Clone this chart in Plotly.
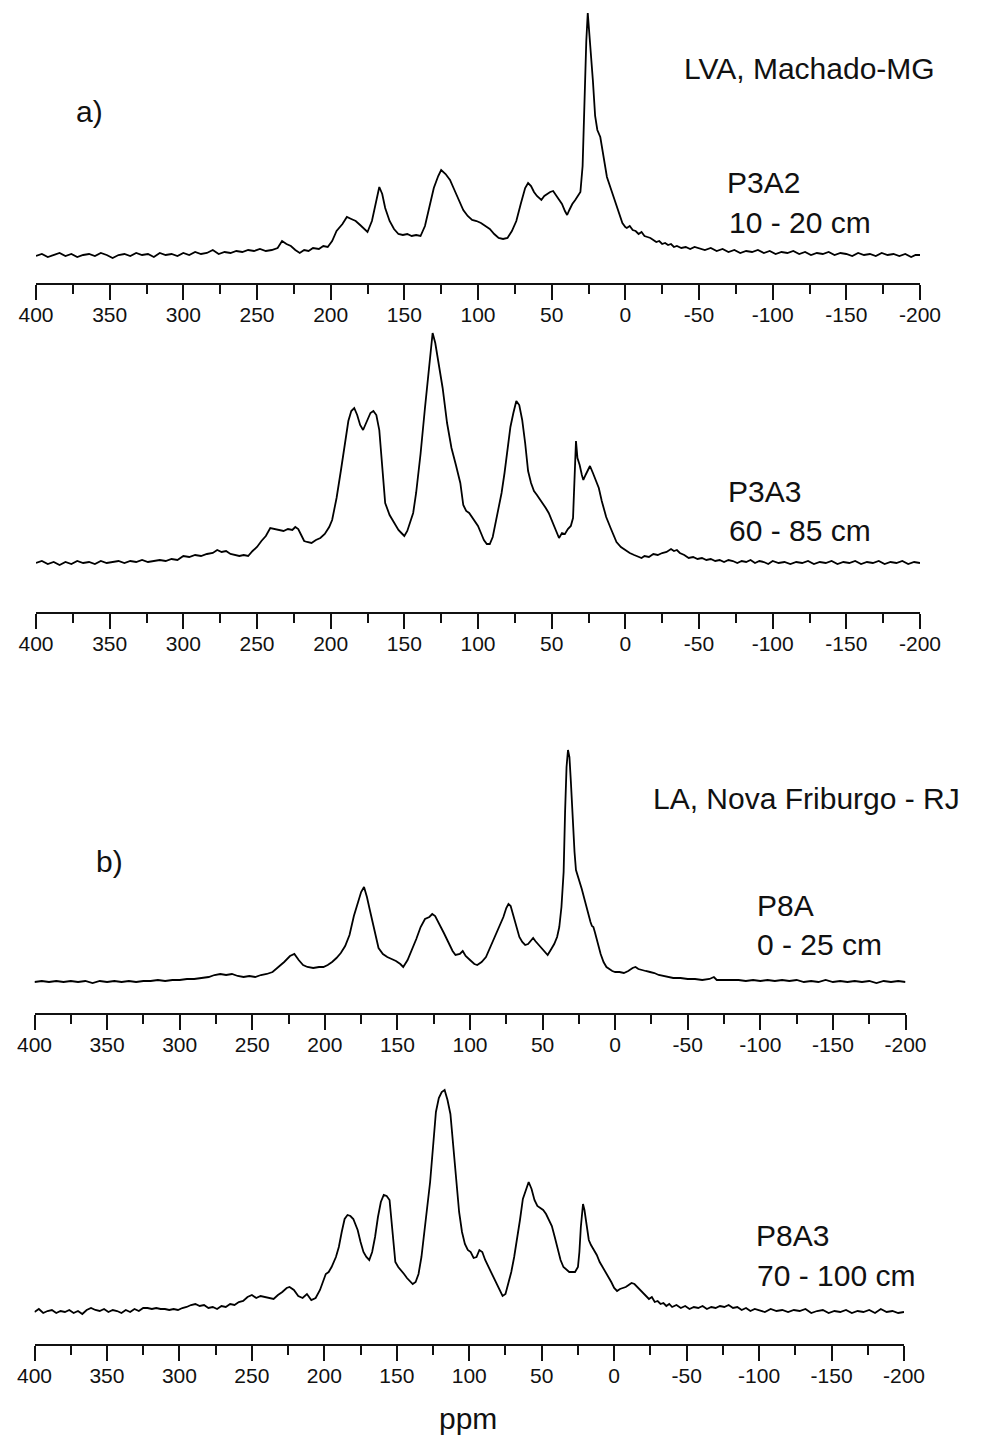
import plotly.graph_objects as go

# ---------------------------------------------------------------------------
# 13C CP/MAS NMR spectra of humic fractions, intensity in arbitrary units
# (baseline = 0). Chemical shift in ppm.
# ---------------------------------------------------------------------------

# a) LVA, Machado-MG  -- P3A2, 10 - 20 cm
p3a2_ppm = [400, 396, 392, 388, 384, 380, 376, 372, 368, 364, 360, 356, 352, 348, 344, 340, 336, 332, 328, 324,
            320, 316, 312, 308, 304, 300, 296, 292, 288, 284, 280, 276, 272, 268, 264, 260, 256, 252, 248, 244,
            240, 236, 233, 230, 227, 224, 221, 218, 215, 212, 208, 205, 202, 199, 196, 192, 189, 186, 183, 180,
            177, 175, 172, 169, 167, 165, 163, 160, 157, 154, 151, 148, 145, 142, 139, 136, 133, 130, 127, 125,
            122, 119, 116, 113, 110, 107, 104, 101, 98, 95, 92, 89, 86, 83, 80, 77, 74, 71, 68, 66,
            64, 62, 60, 57, 55, 53, 51, 49, 47, 45, 43, 41, 39.5, 38, 36, 34, 32, 30.5, 29, 27.8,
            26.5, 25.5, 24.5, 23.5, 22, 20.5, 19, 17, 15, 12.5, 10, 8, 6, 4, 2, 0, -1, -3, -5, -7,
            -9, -11, -13, -15, -17, -19, -21, -23, -25, -27, -29, -31, -33, -35, -38, -41, -44, -47, -50, -54,
            -58, -62, -66, -70, -74, -78, -82, -86, -90, -94, -98, -102, -106, -110, -114, -118, -122, -126, -130, -134,
            -138, -142, -146, -150, -154, -158, -162, -166, -170, -174, -178, -182, -186, -190, -194, -197, -200]
p3a2_int = [0, 2, -1, 1, 3, 0, 2, -1, 1, 2, 0, 3, 1, -2, 1, 2, 0, 3, 1, 2,
            -1, 3, 1, 2, 0, 3, 1, 4, 2, 3, 6, 2, 4, 3, 5, 4, 6, 5, 7, 5,
            6, 8, 15, 12, 10, 6, 3, 6, 5, 8, 7, 10, 9, 15, 25, 32, 39, 37, 35, 31,
            27, 24, 35, 55, 69, 62, 48, 35, 27, 22, 21, 22, 20, 21, 20, 30, 48, 68, 80, 86,
            82, 76, 66, 56, 46, 40, 36, 35, 33, 30, 27, 22, 18, 17, 18, 25, 35, 52, 68, 73,
            70, 64, 60, 56, 60, 62, 64, 65, 61, 57, 52, 45, 41, 46, 52, 56, 60, 64, 90, 160,
            215, 243, 225, 205, 175, 140, 126, 119, 100, 79, 68, 59, 50, 40, 33, 29, 28, 30, 26, 25,
            22, 24, 20, 19, 18, 16, 14, 15, 12, 13, 11, 12, 9, 10, 8, 9, 7, 9, 8, 6,
            8, 5, 7, 4, 6, 3, 5, 4, 6, 3, 5, 2, 4, 3, 5, 2, 4, 1, 3, 2,
            4, 1, 3, 2, 0, 3, 1, 2, 0, 3, 1, 2, 0, 2, -1, 1, 1]

# a) LVA, Machado-MG  -- P3A3, 60 - 85 cm
p3a3_ppm = [400, 396, 392, 388, 384, 380, 376, 372, 368, 364, 360, 356, 352, 348, 344, 340, 336, 332, 328, 324,
            320, 316, 312, 308, 304, 300, 296, 292, 288, 284, 280, 277, 274, 271, 268, 265, 262, 259, 256, 253,
            250, 247, 244, 241, 238, 235, 232, 229, 226, 224, 222, 220, 218, 216, 213, 210, 207, 204, 201, 199,
            196, 193, 190, 188, 186, 184, 182, 180, 178, 176, 173, 171, 169, 167, 165, 163, 160, 157, 154, 152,
            150, 148, 146, 144, 142, 139, 136, 134, 132, 130.8, 129, 127, 124, 121, 118, 115, 112, 110, 108, 106,
            104, 102, 100, 98, 96, 94, 92, 90, 88, 86, 84, 82, 80, 78, 76, 74, 72, 70, 68, 66,
            64, 62, 60, 58, 56, 54, 52, 50, 48, 46, 45, 43, 41, 39, 37, 35.5, 34.5, 33.5, 32.5, 31,
            29.5, 28.5, 27, 25, 24, 22, 20, 18, 16, 13, 10, 8, 6, 3, 0, -3, -6, -9, -11, -13,
            -16, -19, -22, -25, -28, -31, -33, -35, -37, -40, -43, -46, -49, -52, -55, -58, -61, -64, -67, -70,
            -73, -76, -79, -82, -85, -88, -91, -94, -97, -100, -104, -108, -112, -116, -120, -124, -128, -132, -136, -140,
            -144, -148, -152, -156, -160, -164, -168, -172, -176, -180, -184, -188, -192, -196, -200]
p3a3_int = [0, 2, -1, 1, -2, 1, -1, 2, 0, 1, -1, 2, 0, 1, 2, 0, 2, 1, 3, 1,
            2, 3, 2, 4, 3, 7, 6, 8, 7, 9, 10, 13, 11, 12, 9, 8, 7, 8, 7, 12,
            16, 22, 27, 35, 34, 33, 32, 34, 33, 36, 34, 28, 22, 21, 20, 23, 25, 29, 36, 43,
            65, 93, 125, 142, 152, 155, 148, 138, 133, 140, 150, 152, 148, 133, 95, 60, 48, 40, 33, 30,
            27, 32, 40, 50, 70, 109, 155, 186, 215, 230, 220, 203, 175, 140, 115, 98, 80, 58, 52, 50,
            46, 42, 37, 30, 23, 19, 19, 26, 40, 55, 70, 90, 115, 136, 150, 162, 158, 143, 120, 92,
            80, 72, 68, 64, 60, 55, 50, 43, 35, 28, 25, 30, 29, 34, 37, 45, 95, 122, 105, 98,
            88, 83, 88, 95, 97, 90, 82, 75, 62, 46, 35, 27, 21, 16, 13, 10, 8, 6, 5, 7,
            6, 9, 8, 10, 11, 14, 12, 13, 10, 8, 5, 6, 4, 5, 3, 4, 2, 3, 1, 3,
            2, 0, 2, 1, 3, 0, 2, 1, -1, 2, 0, 1, -1, 1, 0, 2, -1, 1, 0, 2,
            -1, 1, 0, 2, -1, 1, 0, 2, -1, 1, 0, 2, -1, 1, 0]

# b) LA, Nova Friburgo - RJ  -- P8A, 0 - 25 cm
p8a_ppm = [400, 395, 390, 385, 380, 375, 370, 365, 360, 355, 350, 345, 340, 335, 330, 325, 320, 315, 310, 305,
           300, 295, 290, 285, 280, 276, 272, 268, 264, 260, 256, 252, 248, 244, 240, 236, 232, 228, 224, 221,
           218, 215, 212, 208, 204, 201, 198, 195, 192, 189, 186, 183, 180, 177, 175, 173, 171, 169, 167, 165,
           163, 160, 157, 154, 151, 148, 146, 143, 140, 137, 134, 131, 128, 126, 124, 121, 118, 115, 112, 110,
           107, 105, 103, 100, 97, 95, 92, 89, 86, 83, 80, 77, 75, 73.5, 72, 70, 68, 66, 64, 62,
           60, 58, 56.5, 55, 52, 50, 48, 46.5, 44, 42, 40, 38.5, 37, 35.5, 34.5, 33.5, 32.5, 31.5, 30.5, 29.5,
           28, 27, 25, 23, 21, 19, 17, 16, 15, 14, 12, 10, 8, 6, 4, 2, 0, -3, -6, -9,
           -12, -14, -16, -18, -21, -24, -27, -30, -33, -36, -40, -45, -50, -55, -60, -65, -68, -70, -75, -80,
           -85, -90, -95, -100, -105, -110, -115, -120, -125, -130, -135, -140, -145, -150, -155, -160, -165, -170, -175, -180,
           -185, -190, -195, -200]
p8a_int = [0, 1, 0, 1, 0, 1, 0, 1, -1, 1, 0, 1, 0, 1, 0, 1, 1, 2, 1, 2,
           2, 3, 3, 4, 5, 7, 8, 7, 8, 6, 5, 6, 5, 7, 8, 10, 15, 20, 26, 28,
           22, 17, 15, 14, 15, 15, 17, 20, 24, 29, 36, 47, 66, 80, 90, 95, 85, 72, 60, 45,
           34, 28, 25, 23, 21, 18, 15, 22, 32, 43, 55, 63, 65, 68, 66, 58, 49, 40, 31, 27,
           28, 31, 26, 22, 18, 17, 20, 25, 35, 46, 56, 65, 74, 78, 76, 66, 54, 45, 40, 37,
           38, 42, 44, 41, 36, 32, 29, 27, 33, 38, 45, 55, 75, 110, 170, 215, 232, 225, 200, 170,
           130, 112, 103, 93, 82, 70, 60, 56, 55, 50, 38, 28, 20, 15, 13, 11, 10, 10, 9, 11,
           14, 15, 13, 12, 11, 10, 9, 7, 6, 5, 4, 4, 3, 3, 2, 3, 5, 2, 2, 2,
           2, 1, 2, 1, 2, 1, 2, 1, 2, 0, 1, 0, 2, 0, 1, 0, 1, 0, 1, -1,
           1, 0, 1, 0]

# b) LA, Nova Friburgo - RJ  -- P8A3, 70 - 100 cm
p8a3_ppm = [400, 397, 394, 391, 388, 385, 382, 379, 376, 373, 370, 367, 364, 361, 358, 355, 352, 349, 346, 343,
            340, 337, 334, 331, 328, 325, 322, 319, 316, 313, 310, 307, 304, 301, 298, 295, 292, 289, 286, 283,
            280, 277, 274, 271, 268, 265, 262, 259, 256, 253, 250, 247, 244, 241, 238, 235, 232, 229, 226, 224,
            221, 218, 215, 212, 209, 206, 203, 201, 199, 197, 195, 192, 190, 188, 186, 184, 182, 180, 177, 175,
            173, 171, 169, 167, 165, 163, 161, 159, 157, 155, 153, 151, 149, 147, 145, 143, 141, 139, 137, 135,
            133, 131, 129, 127, 125, 123, 121, 119, 117, 115, 113, 111, 109, 107, 105, 103, 101, 99, 97, 95,
            93, 91, 89, 87, 85, 83, 81, 79, 77, 75, 73, 71, 69, 67, 65, 63, 61, 59, 57, 55,
            53, 51, 49, 47, 45, 43, 41, 39, 37, 35, 33, 31, 29, 27, 25, 24, 23, 21.5, 20.5, 19,
            17.5, 16, 14, 12, 10, 8, 6, 4, 2, 0, -2, -4, -6, -8, -10, -12, -14, -16, -18, -20,
            -22, -24, -26, -28, -30, -32, -34, -36, -38, -40, -43, -46, -49, -52, -55, -58, -61, -64, -67, -70,
            -73, -76, -79, -82, -85, -88, -91, -94, -97, -100, -104, -108, -112, -116, -120, -124, -128, -132, -136, -140,
            -144, -148, -152, -156, -160, -164, -168, -172, -176, -180, -184, -188, -192, -196, -200]
p8a3_int = [0, 3, -1, 1, 2, -1, 1, 0, 2, -1, 1, -2, 2, 4, 2, 1, 3, 0, 2, 1,
            -1, 2, 0, 3, 1, 4, 4, 3, 4, 3, 3, 2, 3, 2, 4, 5, 7, 8, 6, 7,
            4, 5, 3, 6, 5, 8, 7, 10, 11, 15, 17, 14, 16, 15, 14, 13, 17, 20, 24, 25,
            22, 16, 14, 18, 12, 14, 22, 30, 38, 40, 45, 55, 65, 80, 93, 97, 96, 93, 82, 70,
            60, 55, 52, 60, 75, 95, 110, 117, 116, 112, 80, 50, 45, 42, 38, 34, 31, 28, 30, 38,
            55, 80, 105, 130, 165, 200, 214, 220, 222, 212, 198, 165, 130, 100, 80, 68, 62, 60, 54, 55,
            62, 60, 52, 46, 40, 34, 28, 22, 16, 18, 28, 40, 55, 72, 92, 113, 122, 130, 123, 112,
            106, 104, 102, 98, 92, 86, 75, 62, 52, 45, 42, 40, 40, 40, 45, 60, 85, 108, 102, 86,
            72, 67, 62, 57, 50, 45, 40, 36, 30, 24, 21, 23, 24, 25, 27, 29, 28, 25, 23, 20,
            16, 13, 15, 10, 11, 8, 9, 6, 8, 5, 7, 4, 6, 3, 5, 4, 6, 3, 5, 4,
            6, 5, 7, 4, 5, 2, 4, 1, 3, 2, 0, 3, 1, 2, 0, 2, 1, 3, -1, 1,
            2, -1, 1, 0, 2, -1, 1, 0, 2, -1, 3, 0, 1, -1, 0]

SPECTRA = [
    ("P3A2", p3a2_ppm, p3a2_int),
    ("P3A3", p3a3_ppm, p3a3_int),
    ("P8A", p8a_ppm, p8a_int),
    ("P8A3", p8a3_ppm, p8a3_int),
]

# Shared chemical-shift axis
tick_vals = [400, 350, 300, 250, 200, 150, 100, 50, 0, -50, -100, -150, -200]
tick_text = ["400", "350", "300", "250", "200", "150", "100", "50", "0", "-50", "-100", "-150", "-200"]
minor_vals = [375, 325, 275, 225, 175, 125, 75, 25, -25, -75, -125, -175]

# ---------------------------------------------------------------------------
# Page layout (pixels): axis line row, spectrum baseline row, horizontal extent
# ---------------------------------------------------------------------------
W, H = 982, 1437
panels = [
    dict(axis=283, base=256, x0=36, x1=920),
    dict(axis=612, base=563, x0=36, x1=920),
    dict(axis=1013, base=982, x0=34.5, x1=905.5),
    dict(axis=1344, base=1312, x0=34.5, x1=904),
]
HEADROOM = 250  # px above baseline kept for each spectrum


def fy(px):
    return 1 - px / H


def fx(px):
    return px / W


FONT = "Liberation Sans, Arial, Helvetica, sans-serif"

fig = go.Figure()
layout = dict(
    width=W, height=H,
    margin=dict(l=0, r=0, t=0, b=0, autoexpand=False),
    paper_bgcolor="white", plot_bgcolor="white",
    showlegend=False,
    font=dict(family=FONT, color="#111111"),
)

for i, ((name, xs, ys), p) in enumerate(zip(SPECTRA, panels), start=1):
    xa = "x" if i == 1 else f"x{i}"
    ya = "y" if i == 1 else f"y{i}"
    fig.add_trace(go.Scatter(
        x=xs, y=ys, mode="lines", name=name,
        line=dict(color="black", width=1.8),
        xaxis=xa, yaxis=ya, hoverinfo="skip",
    ))
    lo = -(p["axis"] - p["base"])
    layout[f"xaxis{'' if i == 1 else i}"] = dict(
        domain=[fx(p["x0"]), fx(p["x1"])],
        anchor=ya,
        range=[400, -200],
        automargin=False,
        tickmode="array", tickvals=tick_vals, ticktext=tick_text,
        ticks="outside", ticklen=15, tickwidth=2, tickcolor="#111111",
        minor=dict(tickmode="array", tickvals=minor_vals, ticks="outside",
                   ticklen=9, tickwidth=2, tickcolor="#111111"),
        showline=True, linecolor="#111111", linewidth=2,
        showgrid=False, zeroline=False,
        tickfont=dict(family=FONT, size=21, color="#111111"),
        ticklabelstandoff=-3,
        fixedrange=True,
    )
    layout[f"yaxis{'' if i == 1 else i}"] = dict(
        domain=[fy(p["axis"]), fy(p["base"] - HEADROOM)],
        anchor=xa,
        range=[lo, HEADROOM],
        visible=False, showgrid=False, zeroline=False,
        automargin=False,
        fixedrange=True,
    )

fig.update_layout(**layout)

# Text labels: (text, left px, cap-centre px, size)
labels = [
    ("LVA, Machado-MG", 682, 69, 30),
    ("a)", 74, 111, 30),
    ("P3A2", 725, 182, 30),
    ("10 - 20 cm", 727, 223, 30),
    ("P3A3", 726, 492, 30),
    ("60 - 85 cm", 727, 531, 30),
    ("LA, Nova Friburgo - RJ", 651, 798, 30),
    ("b)", 94, 861, 30),
    ("P8A", 755, 906, 30),
    ("0 - 25 cm", 755, 944, 30),
    ("P8A3", 754, 1235, 30),
    ("70 - 100 cm", 755, 1275, 30),
]
for text, x, y, size in labels:
    fig.add_annotation(
        text=text, x=fx(x), y=fy(y), xref="paper", yref="paper",
        xanchor="left", yanchor="middle", showarrow=False,
        font=dict(family=FONT, size=size, color="#111111"),
    )

fig.add_annotation(
    text="ppm", x=fx(468), y=fy(1418), xref="paper", yref="paper",
    xanchor="center", yanchor="middle", showarrow=False,
    font=dict(family=FONT, size=30, color="#111111"),
)

fig.write_html("out.html")
